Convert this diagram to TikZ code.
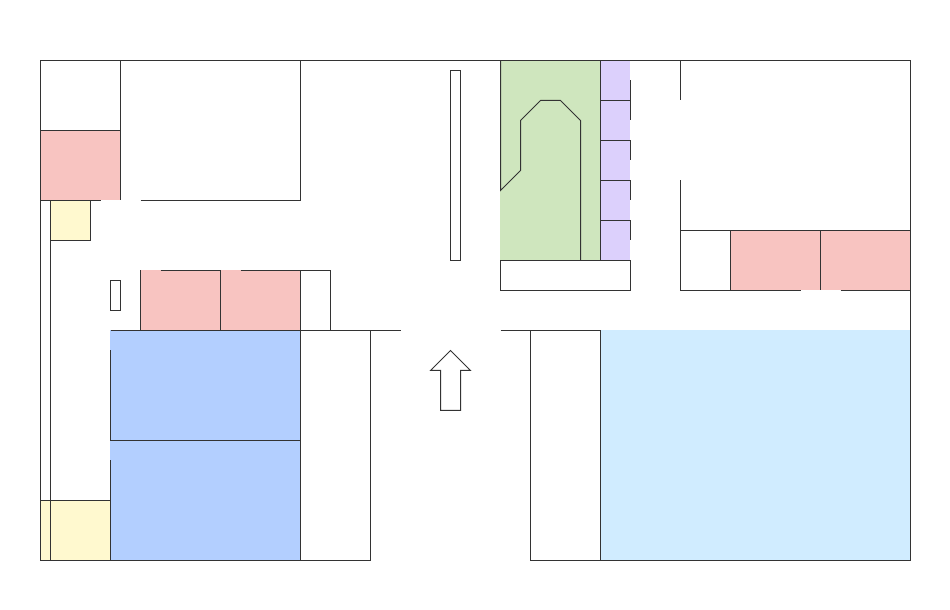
\documentclass[tikz,border=0pt]{standalone}
\usepackage{xcolor}
\definecolor{plangray}{RGB}{51,51,51}
\definecolor{planred}{RGB}{248,196,193}
\definecolor{planblue}{RGB}{179,207,255}
\definecolor{plansky}{RGB}{208,236,255}
\definecolor{plangreen}{RGB}{207,230,190}
\definecolor{planpurple}{RGB}{220,208,252}
\definecolor{planyellow}{RGB}{255,249,207}
\usepackage{tikz}
\tikzset{
  wall/.style={draw=plangray, line width=0.01cm, line join=miter},
  redarea/.style={fill=planred},
  bluearea/.style={fill=planblue},
  skyarea/.style={fill=plansky},
  greenarea/.style={fill=plangreen},
  purplearea/.style={fill=planpurple},
  yellowarea/.style={fill=planyellow}
}

\begin{document}
\begin{tikzpicture}
  \useasboundingbox (0,0) rectangle (9.5,6.1);
  % Colored areas
  \fill[redarea] (0.4,4.1) rectangle (1.2,4.8);
  \fill[redarea] (1.4,2.8) rectangle (3.0,3.4);
  \fill[redarea] (7.3,3.2) rectangle (9.1,3.8);
  \fill[yellowarea] (0.5,3.7) rectangle (0.9,4.1);
  \fill[yellowarea] (0.4,0.5) rectangle (1.1,1.1);
  \fill[bluearea] (1.1,0.5) rectangle (3.0,2.8);
  \fill[skyarea] (6.0,0.5) rectangle (9.1,2.8);
  \fill[greenarea] (5.0,3.5) rectangle (6.0,5.5);
  \fill[purplearea] (6.0,3.5) rectangle (6.3,5.5);

  \begin{scope}[shift={(0.005,-0.005)}]
  % Outer walls
  \draw[wall] (0.4,5.5) -- (9.1,5.5);
  \draw[wall] (0.4,5.5) -- (0.4,0.5) -- (3.7,0.5) -- (3.7,2.8);
  \draw[wall] (9.1,5.5) -- (9.1,0.5) -- (5.3,0.5) -- (5.3,2.8);

  % --- Top left rooms ---
  \draw[wall] (1.2,5.5) -- (1.2,4.1);
  \draw[wall] (0.4,4.8) -- (1.2,4.8);
  \draw[wall] (0.4,4.1) -- (1.0,4.1);
  \draw[wall] (1.4,4.1) -- (3.0,4.1) -- (3.0,5.5);
  \draw[wall] (0.5,4.1) -- (0.5,3.7) -- (0.9,3.7) -- (0.9,4.1);
  \draw[wall] (0.5,3.7) -- (0.5,0.5);

  % --- Lower left rooms ---
  \draw[wall] (1.1,3.3) rectangle (1.2,3.0);
  \draw[wall] (1.4,2.8) -- (1.4,3.4);
  \draw[wall] (1.6,3.4) -- (2.2,3.4);
  \draw[wall] (2.4,3.4) -- (3.3,3.4) -- (3.3,2.8);
  \draw[wall] (2.2,3.4) -- (2.2,2.8);
  \draw[wall] (3.0,3.4) -- (3.0,0.5);
  \draw[wall] (1.1,2.8) -- (4.0,2.8);
  \draw[wall] (1.1,2.6) -- (1.1,1.7) -- (3.0,1.7);
  \draw[wall] (1.1,1.5) -- (1.1,0.5);
  \draw[wall] (0.4,1.1) -- (1.1,1.1);

  % Middle strip and direction arrow
  \draw[wall] (4.5,5.4) rectangle (4.6,3.5);
  \draw[wall] (4.5,2.6) -- (4.7,2.4) -- (4.6,2.4) -- (4.6,2.0) -- (4.4,2.0)
    -- (4.4,2.4) -- (4.3,2.4) -- cycle;

  % --- Green block ---
  \draw[wall] (5.0,5.5) -- (5.0,4.2) -- (5.2,4.4) -- (5.2,4.9) -- (5.4,5.1)
    -- (5.6,5.1) -- (5.8,4.9) -- (5.8,3.5);
  \draw[wall] (6.0,5.5) -- (6.0,3.5);
  \draw[wall] (5.0,3.5) rectangle (6.3,3.2);

  % Purple cells
  \draw[wall] (6.0,5.1) -- (6.3,5.1);
  \draw[wall] (6.0,4.7) -- (6.3,4.7);
  \draw[wall] (6.0,4.3) -- (6.3,4.3);
  \draw[wall] (6.0,3.9) -- (6.3,3.9);
  \draw[wall] (6.3,5.3) -- (6.3,4.9);
  \draw[wall] (6.3,4.7) -- (6.3,4.5);
  \draw[wall] (6.3,4.3) -- (6.3,4.1);
  \draw[wall] (6.3,3.9) -- (6.3,3.7);

  % --- Top right rooms ---
  \draw[wall] (6.8,5.5) -- (6.8,5.1);
  \draw[wall] (6.8,4.3) -- (6.8,3.2) -- (8.0,3.2);
  \draw[wall] (8.4,3.2) -- (9.1,3.2);
  \draw[wall] (6.8,3.8) -- (9.1,3.8);
  \draw[wall] (7.3,3.8) -- (7.3,3.2);
  \draw[wall] (8.2,3.8) -- (8.2,3.2);

  % --- Lower right rooms ---
  \draw[wall] (5.0,2.8) -- (6.0,2.8) -- (6.0,0.5);
  \end{scope}
\end{tikzpicture}
\end{document}
